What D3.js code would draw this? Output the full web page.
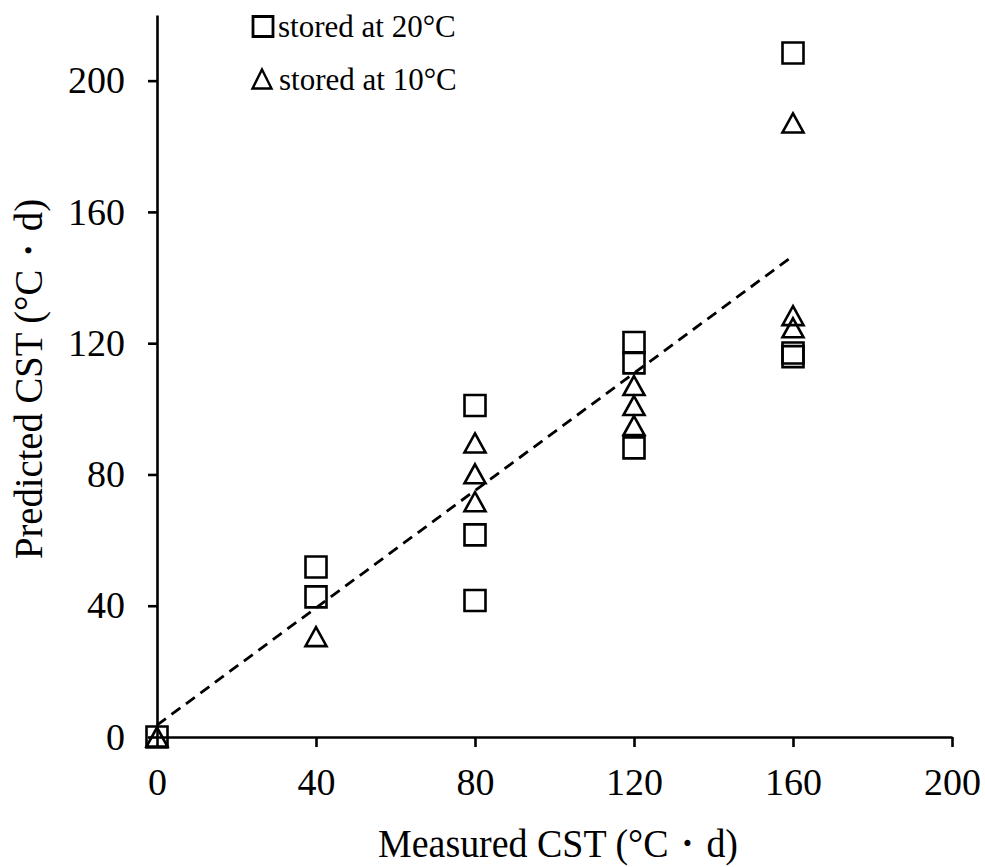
<!DOCTYPE html>
<html>
<head>
<meta charset="utf-8">
<script src="https://cdn.jsdelivr.net/npm/d3@7"></script>
<style>
  body { margin: 0; background: #fff; }
  text { font-family: "Liberation Serif", "Times New Roman", serif; fill: #000; }
</style>
</head>
<body>
<div id="chart"></div>
<script>
// values
var measured20 = [0, 40, 40, 80, 80, 80, 120, 120, 120, 160, 160, 160];
var predicted20 = [0, 51.8, 42.7, 101, 61.6, 41.6, 120.2, 114, 88.1, 208.4, 117, 115.9];
var measured10 = [0, 40, 80, 80, 80, 120, 120, 120, 160, 160, 160];
var predicted10 = [0, 30.6, 89.6, 80.2, 71.7, 107.1, 101, 94.9, 187.1, 128.4, 124.7];
var fitX = [0, 160];
var fitY = [3.6, 146.6];
var xTicks = [0, 40, 80, 120, 160, 200];
var yTicks = [0, 40, 80, 120, 160, 200];
var legendLabels = ["stored at 20°C", "stored at 10°C"];

var W = 985, H = 867;
var margin = {top: 15, left: 157};
var width = 795, height = 722;

var svg = d3.select("#chart").append("svg")
  .attr("width", W)
  .attr("height", H);

var g = svg.append("g")
  .attr("transform", "translate(" + margin.left + "," + margin.top + ")");

// scales
var x = d3.scaleLinear().domain([0, 200]).range([0, width]);
var y = d3.scaleLinear().domain([0, 220]).range([height, 0]);

// axes
var xAxis = g.append("g")
  .attr("transform", "translate(0," + height + ")")
  .call(d3.axisBottom(x).tickValues(xTicks).tickSize(10).tickSizeOuter(0).tickPadding(21));

var yAxis = g.append("g")
  .call(d3.axisLeft(y).tickValues(yTicks).tickSize(9).tickSizeOuter(0).tickPadding(23));

[xAxis, yAxis].forEach(function(a) {
  a.select(".domain").attr("stroke", "#000").attr("stroke-width", 2.6);
  a.selectAll(".tick line").attr("stroke", "#000").attr("stroke-width", 2.6);
  a.selectAll(".tick text")
    .attr("font-family", "Liberation Serif, Times New Roman, serif")
    .attr("font-size", 38)
    .attr("fill", "#000");
});

// axis titles
g.append("text")
  .attr("x", 401)
  .attr("y", 842)
  .attr("text-anchor", "middle")
  .attr("font-size", 40)
  .attr("textLength", 360)
  .attr("lengthAdjust", "spacingAndGlyphs")
  .text("Measured CST (°C・d)");

g.append("text")
  .attr("transform", "rotate(-90)")
  .attr("x", -(379 - margin.top))
  .attr("y", 42 - margin.left)
  .attr("text-anchor", "middle")
  .attr("font-size", 39)
  .attr("textLength", 360)
  .attr("lengthAdjust", "spacingAndGlyphs")
  .text("Predicted CST (°C・d)");

// marker shapes
function squarePath(s) {
  var h = s / 2;
  return "M" + (-h) + "," + (-h) + "H" + h + "V" + h + "H" + (-h) + "Z";
}
function trianglePath(w, hgt) {
  return "M0," + (-hgt / 2) + "L" + (w / 2) + "," + (hgt / 2) + "L" + (-w / 2) + "," + (hgt / 2) + "Z";
}

// stored at 20 C
g.selectAll(".sq")
  .data(measured20.map(function(m, i) { return {x: m, y: predicted20[i]}; }))
  .enter().append("path")
  .attr("class", "sq")
  .attr("transform", function(d) { return "translate(" + x(d.x) + "," + y(d.y) + ")"; })
  .attr("d", squarePath(21))
  .attr("fill", "none")
  .attr("stroke", "#000")
  .attr("stroke-width", 2.6);

// stored at 10 C
g.selectAll(".tri")
  .data(measured10.map(function(m, i) { return {x: m, y: predicted10[i]}; }))
  .enter().append("path")
  .attr("class", "tri")
  .attr("transform", function(d) { return "translate(" + x(d.x) + "," + y(d.y) + ")"; })
  .attr("d", trianglePath(21, 19))
  .attr("fill", "none")
  .attr("stroke", "#000")
  .attr("stroke-width", 2.6)
  .attr("stroke-linejoin", "miter");

// fitted line
var line = d3.line()
  .x(function(d) { return x(d[0]); })
  .y(function(d) { return y(d[1]); });

g.append("path")
  .attr("d", line(fitX.map(function(v, i) { return [v, fitY[i]]; })))
  .attr("fill", "none")
  .attr("stroke", "#000")
  .attr("stroke-width", 2.8)
  .attr("stroke-dasharray", "11,7");

// legend
var legend = svg.append("g");
legend.append("path")
  .attr("transform", "translate(263,26.5)")
  .attr("d", squarePath(20))
  .attr("fill", "none")
  .attr("stroke", "#000")
  .attr("stroke-width", 2.8);
legend.append("path")
  .attr("transform", "translate(262,79)")
  .attr("d", trianglePath(19, 19))
  .attr("fill", "none")
  .attr("stroke", "#000")
  .attr("stroke-width", 2.4);
legend.selectAll(".lt")
  .data(legendLabels)
  .enter().append("text")
  .attr("class", "lt")
  .attr("x", function(d, i) { return i === 0 ? 278 : 279; })
  .attr("y", function(d, i) { return i === 0 ? 37 : 90; })
  .attr("font-size", 31)
  .text(function(d) { return d; });
</script>
</body>
</html>
